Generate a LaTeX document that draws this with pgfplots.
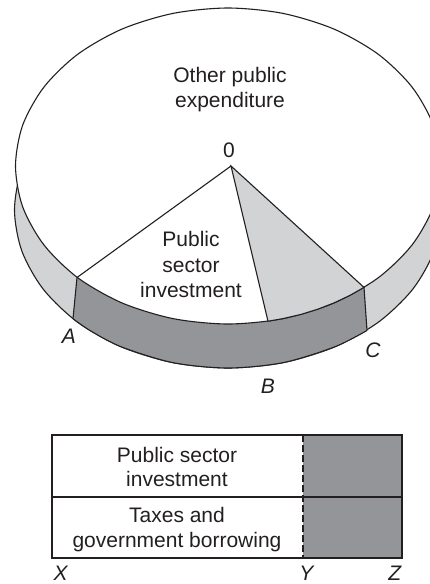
\documentclass[border=0pt]{standalone}
\usepackage{fontspec}
\setmainfont{Liberation Sans}
\usepackage{pgfplots}
\pgfplotsset{compat=1.18}
\definecolor{lightg}{HTML}{D1D3D4}
\definecolor{darkg}{HTML}{939598}
\definecolor{ink}{HTML}{231F20}
\newcommand{\lab}[3]{\node[anchor=base,inner sep=0pt,text=ink,font=\fontsize{21}{25}\selectfont] at (axis cs:#1,#2) {#3};}
\begin{document}
\begin{tikzpicture}
\begin{axis}[
    width=430pt,
    height=584pt,
    scale only axis,
    ticks=none,
    axis line style={draw=none},
    xmin=0, xmax=430,
    ymin=0, ymax=584,
    y dir=reverse,
    every axis plot/.append style={line width=1.1pt, color=ink, mark=none},
]

% lower rim of the pie, all of it light grey
\addplot[fill=lightg, draw=ink, smooth cycle] coordinates {
    (441.5,210) (434.2,250.9) (412.9,289) (379,321.7) (334.8,346.8) (283.3,362.6)
    (228,368) (172.7,362.6) (121.2,346.8) (77,321.7) (43.1,289) (21.8,250.9)
    (14.5,210) (21.8,169.1) (43.1,131) (77,98.3) (121.2,73.2) (172.7,57.4)
    (228,52) (283.3,57.4) (334.8,73.2) (379,98.3) (412.9,131) (434.2,169.1)
};

% dark part of the rim, A to C
\addplot[fill=darkg, draw=none] coordinates {
    (77,277.5) (73,318.7) (77,321.7) (90.8,331) (105.5,339.4) (121.2,346.8)
    (137.8,353.2) (155,358.5) (172.7,362.6) (190.9,365.6) (209.4,367.4) (228,368)
    (246.6,367.4) (265.1,365.6) (283.3,362.6) (301,358.5) (318.2,353.2) (334.8,346.8)
    (350.5,339.4) (367,330.5) (364,287.4)
} --cycle;
\addplot[draw=ink, smooth] coordinates {
    (73,318.7) (90.8,331) (121.2,346.8) (172.7,362.6) (228,368) (283.3,362.6) (334.8,346.8) (367,330.5)
};

% top of the pie
\addplot[fill=white, draw=ink, smooth cycle] coordinates {
    (440.5,166) (433.3,206.9) (412,245) (378.3,277.7) (334.3,302.8) (283,318.6)
    (228,324) (173,318.6) (121.7,302.8) (77.7,277.7) (44,245) (22.7,206.9)
    (15.5,166) (22.7,125.1) (44,87) (77.7,54.3) (121.7,29.2) (173,13.4)
    (228,8) (283,13.4) (334.3,29.2) (378.3,54.3) (412,87) (433.3,125.1)
};

% wedge 0 - B - C
\addplot[fill=lightg, draw=ink] coordinates {
    (231,166) (268,321.2) (283,318.6) (300.7,314.5) (317.8,309.2) (334.3,302.8)
    (349.9,295.4) (364,287.4)
} --cycle;

% radius to A and the rim edges
\addplot[draw=ink] coordinates {(231,166) (77,277.5)};
\addplot[draw=ink] coordinates {(77,277.5) (73,318.7)};
\addplot[draw=ink] coordinates {(364,287.4) (367,330.5)};

% bar below
\addplot[fill=darkg, draw=none] coordinates {(303,435) (402,435) (402,558) (303,558)} --cycle;
\addplot[draw=ink] coordinates {(52,435) (402,435) (402,558) (52,558)} --cycle;
\addplot[draw=ink] coordinates {(52,497) (402,497)};
\addplot[draw=ink, dash pattern=on 7pt off 3pt] coordinates {(303,435) (303,558)};

\lab{230}{82}{Other public}
\lab{230}{107}{expenditure}
\lab{229}{157}{0}
\lab{191}{246}{Public}
\lab{191}{272}{sector}
\lab{191}{297}{investment}
\lab{69}{343}{\textit{A}}
\lab{268}{393}{\textit{B}}
\lab{373}{357}{\textit{C}}
\lab{177}{462}{Public sector}
\lab{177}{486}{investment}
\lab{177}{522}{Taxes and}
\lab{177}{547}{government borrowing}
\lab{61}{580}{\textit{X}}
\lab{307}{580}{\textit{Y}}
\lab{395}{580}{\textit{Z}}
\end{axis}
\end{tikzpicture}
\end{document}
